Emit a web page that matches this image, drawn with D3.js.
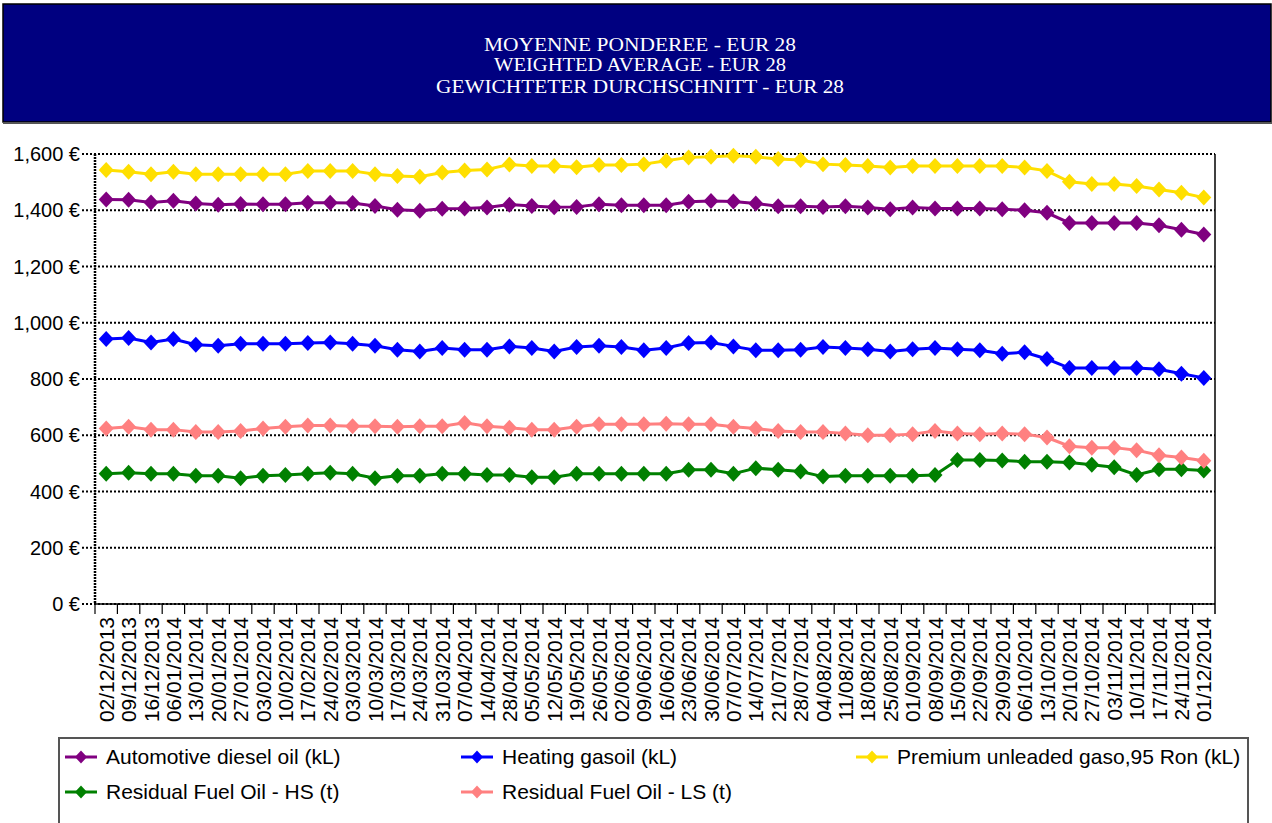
<!DOCTYPE html>
<html>
<head>
<meta charset="utf-8">
<script src="https://cdn.jsdelivr.net/npm/d3@7"></script>
<style>
  body { margin: 0; background: #fff; }
  svg { display: block; }
  .title { font-family: "Liberation Serif", "Times New Roman", serif; fill: #fff; }
  .label { font-family: "Liberation Sans", Arial, sans-serif; font-size: 20px; fill: #000; }
  .xlabel { font-size: 21px; }
  .legend-text { font-size: 21px; }
</style>
</head>
<body>
<div id="chart"></div>
<script>
// Weekly dates (x axis)
const dates = [
  "02/12/2013", "09/12/2013", "16/12/2013", "06/01/2014", "13/01/2014", "20/01/2014", "27/01/2014",
  "03/02/2014", "10/02/2014", "17/02/2014", "24/02/2014", "03/03/2014", "10/03/2014", "17/03/2014",
  "24/03/2014", "31/03/2014", "07/04/2014", "14/04/2014", "28/04/2014", "05/05/2014", "12/05/2014",
  "19/05/2014", "26/05/2014", "02/06/2014", "09/06/2014", "16/06/2014", "23/06/2014", "30/06/2014",
  "07/07/2014", "14/07/2014", "21/07/2014", "28/07/2014", "04/08/2014", "11/08/2014", "18/08/2014",
  "25/08/2014", "01/09/2014", "08/09/2014", "15/09/2014", "22/09/2014", "29/09/2014", "06/10/2014",
  "13/10/2014", "20/10/2014", "27/10/2014", "03/11/2014", "10/11/2014", "17/11/2014", "24/11/2014",
  "01/12/2014"
];

// Prices per series (EUR)
const diesel = [
  1438, 1437, 1428, 1434, 1424, 1420, 1422, 1421, 1421, 1427, 1427, 1426, 1415, 1402, 1398,
  1405, 1406, 1410, 1420, 1415, 1411, 1412, 1421, 1418, 1418, 1418, 1430, 1433, 1431, 1424,
  1414, 1414, 1412, 1414, 1410, 1404, 1410, 1406, 1406, 1406, 1404, 1400, 1391, 1355, 1355,
  1355, 1355, 1347, 1331, 1314
];
const heating = [
  942, 946, 930, 942, 922, 918, 925, 925, 925, 928, 930, 925, 918, 904, 898,
  910, 904, 904, 916, 910, 898, 914, 918, 914, 902, 910, 928, 930, 916, 902,
  902, 904, 914, 910, 906, 898, 906, 910, 906, 902, 890, 895, 871, 839, 839,
  839, 839, 835, 819, 804
];
const premium = [
  1543, 1537, 1528, 1537, 1528, 1528, 1528, 1528, 1528, 1540, 1540, 1540, 1528, 1522, 1519,
  1534, 1541, 1545, 1563, 1557, 1557, 1553, 1561, 1561, 1564, 1576, 1588, 1590, 1594, 1590,
  1582, 1579, 1564, 1561, 1557, 1552, 1557, 1557, 1557, 1557, 1557, 1552, 1540, 1501, 1493,
  1493, 1486, 1474, 1462, 1445
];
const residualHS = [
  463, 467, 463, 463, 456, 456, 447, 456, 459, 463, 467, 463, 447, 456, 456,
  463, 463, 459, 459, 451, 451, 463, 463, 463, 463, 463, 477, 477, 463, 483,
  477, 471, 453, 456, 456, 456, 456, 459, 512, 512, 510, 506, 506, 503, 495,
  486, 459, 479, 479, 475
];
const residualLS = [
  624, 630, 620, 620, 612, 612, 615, 624, 630, 635, 635, 632, 632, 630, 632,
  632, 644, 632, 627, 620, 620, 630, 639, 639, 639, 641, 639, 639, 630, 624,
  615, 612, 612, 606, 600, 600, 604, 615, 606, 604, 606, 604, 592, 561, 556,
  556, 547, 529, 521, 509
];

const seriesNames = [
  "Automotive diesel oil (kL)",
  "Heating gasoil (kL)",
  "Premium unleaded gaso,95 Ron (kL)",
  "Residual Fuel Oil - HS (t)",
  "Residual Fuel Oil - LS (t)"
];
const seriesValues = [diesel, heating, premium, residualHS, residualLS];
const seriesColors = ["#800080", "#0000ff", "#ffdf00", "#008000", "#ff8080"];

const yTicks = [0, 200, 400, 600, 800, 1000, 1200, 1400, 1600];
const titleLines = [
  "MOYENNE PONDEREE - EUR 28",
  "WEIGHTED AVERAGE - EUR 28",
  "GEWICHTETER DURCHSCHNITT - EUR 28"
];

const width = 1272;
const height = 823;
const plotLeft = 95, plotRight = 1215, plotTop = 154, plotBottom = 604;

const svg = d3.select('#chart')
  .append('svg')
    .attr('width', width)
    .attr('height', height);

// Title band
svg.append('rect')
  .attr('x', 3).attr('y', 4)
  .attr('width', width - 4).attr('height', 118)
  .attr('fill', '#000080')
  .attr('stroke', '#000')
  .attr('stroke-width', 1.5);
svg.append('line')
  .attr('x1', 3).attr('x2', width)
  .attr('y1', 123).attr('y2', 123)
  .attr('stroke', '#555').attr('stroke-width', 2);

// Title text is drawn narrow and tall in the original, so stretch to the measured widths
const titleWidths = [312, 292, 408];
svg.selectAll('.title')
  .data(titleLines)
  .join('text')
    .attr('class', 'title')
    .attr('x', 640)
    .attr('y', (d, i) => [51, 71, 93][i])
    .attr('text-anchor', 'middle')
    .attr('font-size', 19)
    .attr('textLength', (d, i) => titleWidths[i])
    .attr('lengthAdjust', 'spacingAndGlyphs')
    .text(d => d);

// Scales
const x = d3.scaleBand()
  .domain(dates)
  .range([plotLeft, plotRight]);
const xc = d => x(d) + x.bandwidth() / 2;

const y = d3.scaleLinear()
  .domain([0, 1600])
  .range([plotBottom, plotTop]);

// Horizontal dotted gridlines
svg.selectAll('.grid')
  .data(yTicks)
  .join('line')
    .attr('class', 'grid')
    .attr('x1', plotLeft - 13)
    .attr('x2', plotRight)
    .attr('y1', d => y(d))
    .attr('y2', d => y(d))
    .attr('stroke', '#000')
    .attr('stroke-width', 2)
    .attr('stroke-dasharray', '2,2');

// Left axis (dotted) and right border (solid)
svg.append('line')
  .attr('x1', plotLeft).attr('x2', plotLeft)
  .attr('y1', plotTop).attr('y2', plotBottom)
  .attr('stroke', '#000').attr('stroke-width', 2.5)
  .attr('stroke-dasharray', '2,1');
svg.append('line')
  .attr('x1', plotRight).attr('x2', plotRight)
  .attr('y1', plotTop).attr('y2', plotBottom + 10)
  .attr('stroke', '#000').attr('stroke-width', 1.5);

// Bottom axis line with ticks at category boundaries
svg.append('line')
  .attr('x1', plotLeft).attr('x2', plotRight)
  .attr('y1', plotBottom).attr('y2', plotBottom)
  .attr('stroke', '#000').attr('stroke-width', 1.5);
svg.selectAll('.xtick')
  .data(dates)
  .join('line')
    .attr('class', 'xtick')
    .attr('x1', d => x(d)).attr('x2', d => x(d))
    .attr('y1', plotBottom).attr('y2', plotBottom + 10)
    .attr('stroke', '#000').attr('stroke-width', 1.2);

// Y labels
svg.selectAll('.ylabel')
  .data(yTicks)
  .join('text')
    .attr('class', 'label ylabel')
    .attr('x', 80)
    .attr('y', d => y(d))
    .attr('dy', '0.35em')
    .attr('text-anchor', 'end')
    .text(d => d3.format(',')(d) + ' €');

// X labels, rotated
svg.selectAll('.xlabel')
  .data(dates)
  .join('text')
    .attr('class', 'label xlabel')
    .attr('transform', d => `translate(${xc(d)},${plotBottom + 13}) rotate(-90)`)
    .attr('dy', '0.36em')
    .attr('text-anchor', 'end')
    .text(d => d);

// Series lines and diamond markers
const diamond = 'M0,-8L7.5,0L0,8L-7.5,0Z';
const line = d3.line()
  .x((d, i) => xc(dates[i]))
  .y(d => y(d));

seriesValues.forEach((vals, s) => {
  svg.append('path')
    .datum(vals)
    .attr('d', line)
    .attr('fill', 'none')
    .attr('stroke', seriesColors[s])
    .attr('stroke-width', 3);
  svg.append('g')
    .selectAll('path')
    .data(vals)
    .join('path')
      .attr('d', diamond)
      .attr('transform', (d, i) => `translate(${xc(dates[i])},${y(d)})`)
      .attr('fill', seriesColors[s]);
});

// Legend
svg.append('rect')
  .attr('x', 59).attr('y', 738)
  .attr('width', 1189).attr('height', 100)
  .attr('fill', '#fff')
  .attr('stroke', '#555')
  .attr('stroke-width', 2);

const legendCols = [65, 461, 856];
const legendRows = [757, 792];
const legend = svg.selectAll('.legend-item')
  .data(seriesNames)
  .join('g')
    .attr('class', 'legend-item')
    .attr('transform', (d, i) => `translate(${legendCols[i % 3]},${legendRows[Math.floor(i / 3)]})`);
legend.append('line')
  .attr('x1', 0).attr('x2', 32)
  .attr('y1', 0).attr('y2', 0)
  .attr('stroke', (d, i) => seriesColors[i])
  .attr('stroke-width', 3);
legend.append('path')
  .attr('d', 'M0,-6.5L6,0L0,6.5L-6,0Z')
  .attr('transform', 'translate(16,0)')
  .attr('fill', (d, i) => seriesColors[i]);
legend.append('text')
  .attr('class', 'label legend-text')
  .attr('x', 41)
  .attr('dy', '0.35em')
  .text(d => d);
</script>
</body>
</html>
